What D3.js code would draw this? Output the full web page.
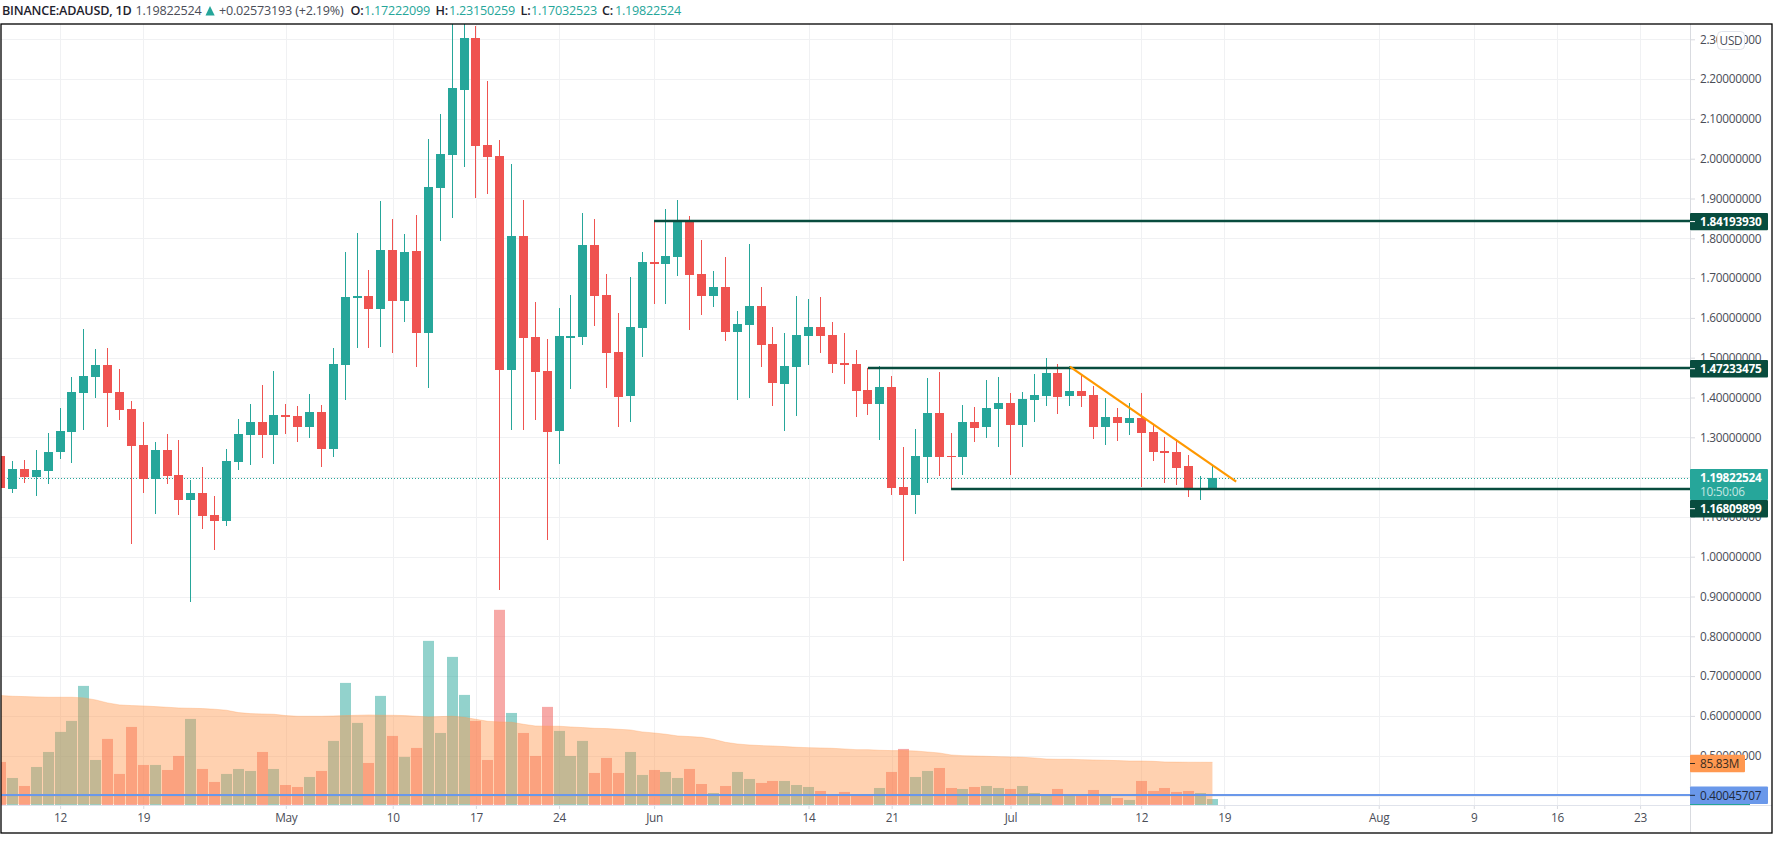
<!DOCTYPE html>
<html>
<head>
<meta charset="utf-8">
<title>BINANCE:ADAUSD, 1D</title>
<script src="https://cdnjs.cloudflare.com/ajax/libs/d3/7.8.5/d3.min.js"></script>
<style>
  html, body { margin: 0; background: #fff; overflow: hidden; }
  svg { display: block; }
  text { font-family: "Open Sans", sans-serif; }
  .axis path, .axis line { stroke: #d9dbe0; }
  .axis text { fill: #4a4d57; font-size: 11.8px; letter-spacing: -0.25px; }
</style>
</head>
<body>
<svg id="chart" width="1779" height="842"></svg>
<script>
// daily candles, first one is 2021-04-07, last one 2021-07-18
const opens = [
  1.2535, 1.171, 1.221, 1.201, 1.216,
  1.2635, 1.314, 1.4115, 1.452, 1.482, 1.414, 1.371, 1.281, 1.196, 1.2685,
  1.206, 1.143, 1.161, 1.1055, 1.0905, 1.2385, 1.306, 1.339, 1.306, 1.356,
  1.354, 1.326, 1.364, 1.271, 1.482, 1.65, 1.655, 1.622, 1.771, 1.642,
  1.768, 1.561, 1.927, 2.009, 2.173, 2.303, 2.034, 2.007, 1.469, 1.806,
  1.552, 1.467, 1.316, 1.549, 1.552, 1.783, 1.657, 1.514, 1.404, 1.5745,
  1.74, 1.735, 1.753, 1.843, 1.71, 1.655, 1.677, 1.5645, 1.582, 1.63,
  1.5345, 1.434, 1.477, 1.5545, 1.577, 1.557, 1.487, 1.484, 1.419, 1.384,
  1.4265, 1.176, 1.156, 1.251, 1.361, 1.2535, 1.251, 1.339, 1.326, 1.371,
  1.3865, 1.331, 1.394, 1.404, 1.462, 1.404, 1.4165, 1.4065, 1.326, 1.351,
  1.336, 1.349, 1.314, 1.266, 1.2635, 1.228, 1.1722, 1.17222099
];
const highs = [
  1.2535, 1.241, 1.2435, 1.2685, 1.311,
  1.374, 1.452, 1.572, 1.522, 1.5245, 1.472, 1.391, 1.339, 1.2885, 1.309,
  1.294, 1.193, 1.226, 1.153, 1.271, 1.346, 1.384, 1.4315, 1.467, 1.384,
  1.379, 1.409, 1.381, 1.5245, 1.766, 1.813, 1.72, 1.894, 1.849, 1.811,
  1.859, 2.05, 2.112, 2.36, 2.46, 2.334, 2.195, 2.047, 1.987, 1.896,
  1.64, 1.547, 1.625, 1.658, 1.864, 1.849, 1.71, 1.612, 1.7025, 1.765,
  1.843, 1.873, 1.896, 1.8555, 1.795, 1.7175, 1.753, 1.617, 1.785, 1.6775,
  1.577, 1.562, 1.655, 1.647, 1.652, 1.59, 1.562, 1.519, 1.474, 1.479,
  1.454, 1.276, 1.321, 1.449, 1.464, 1.311, 1.381, 1.376, 1.444, 1.452,
  1.4115, 1.414, 1.459, 1.499, 1.484, 1.479, 1.457, 1.429, 1.399, 1.374,
  1.386, 1.4115, 1.331, 1.301, 1.296, 1.256, 1.2032, 1.23150259
];
const lows = [
  1.173, 1.161, 1.186, 1.153, 1.183,
  1.246, 1.236, 1.319, 1.399, 1.326, 1.344, 1.033, 1.161, 1.108, 1.183,
  1.1055, 0.886, 1.07, 1.018, 1.078, 1.218, 1.231, 1.2485, 1.233, 1.309,
  1.2885, 1.299, 1.226, 1.251, 1.394, 1.5245, 1.5245, 1.527, 1.512, 1.59,
  1.476, 1.423, 1.793, 1.851, 1.978, 1.901, 1.911, 0.917, 1.319, 1.319,
  1.344, 1.043, 1.233, 1.4215, 1.532, 1.58, 1.424, 1.326, 1.339, 1.502,
  1.635, 1.635, 1.705, 1.5695, 1.607, 1.627, 1.542, 1.394, 1.399, 1.477,
  1.379, 1.316, 1.354, 1.482, 1.512, 1.462, 1.434, 1.351, 1.356, 1.294,
  1.156, 0.988, 1.108, 1.186, 1.203, 1.171, 1.206, 1.289, 1.299, 1.276,
  1.206, 1.276, 1.339, 1.379, 1.359, 1.379, 1.376, 1.296, 1.281, 1.291,
  1.306, 1.176, 1.241, 1.186, 1.181, 1.151, 1.143, 1.17032523
];
const closes = [
  1.173, 1.221, 1.201, 1.218, 1.2635,
  1.316, 1.414, 1.454, 1.482, 1.4115, 1.369, 1.2785, 1.196, 1.2685, 1.203,
  1.143, 1.161, 1.103, 1.0905, 1.241, 1.309, 1.339, 1.306, 1.356, 1.351,
  1.326, 1.364, 1.271, 1.484, 1.652, 1.655, 1.622, 1.771, 1.642, 1.766,
  1.561, 1.929, 2.012, 2.178, 2.303, 2.032, 2.004, 1.469, 1.806, 1.549,
  1.464, 1.314, 1.5545, 1.5545, 1.783, 1.655, 1.512, 1.4015, 1.577, 1.74,
  1.735, 1.755, 1.843, 1.7075, 1.655, 1.677, 1.5645, 1.5845, 1.63, 1.532,
  1.4365, 1.479, 1.557, 1.577, 1.5545, 1.484, 1.482, 1.4165, 1.384, 1.4265,
  1.173, 1.156, 1.2535, 1.361, 1.251, 1.251, 1.339, 1.324, 1.374, 1.3865,
  1.331, 1.3965, 1.4065, 1.462, 1.4015, 1.4165, 1.404, 1.326, 1.351, 1.336,
  1.349, 1.311, 1.2635, 1.261, 1.223, 1.173, 1.173, 1.19822524
];
// volume, millions
const volumes = [
  86.5, 54.3, 38.2, 76.4, 106.6,
  146.9, 169, 239.4, 90.5, 132.8, 62.4, 156.9, 80.5, 80.5, 70.4,
  98.6, 173, 72.4, 46.3, 62.4, 72.4, 68.4, 106.6, 72.4, 40.2,
  36.2, 56.3, 68.4, 128.8, 245.4, 165, 84.5, 219.3, 138.8, 96.6,
  114.7, 329.9, 144.8, 297.7, 221.3, 169, 90.5, 392.3, 185, 144.8,
  98.6, 197.2, 148.9, 98.6, 128.8, 64.4, 94.6, 64.4, 106.6, 60.4,
  70.4, 66.4, 54.3, 72.4, 42.2, 24.1, 38.2, 66.4, 52.3, 44.3,
  48.3, 48.3, 40.2, 36.2, 28.2, 20.1, 26.2, 20.1, 20, 34.2,
  66.4, 112.7, 56.3, 68.4, 74.4, 34.2, 32.2, 36.2, 38.2, 34.2,
  32.2, 38.2, 24.1, 20, 32.2, 20, 20, 30.2, 20, 14.1,
  10.1, 48.3, 28.2, 34.2, 26.2, 28.2, 24.1, 12
];
// volume moving average, millions
const volumeMA = [
  220, 218.6, 217.9, 217.3, 216.6,
  216.6, 216.6, 215.3, 211.2, 205.2, 201.2, 199.8, 199.2, 197.8, 196.5,
  195.1, 194.5, 193.8, 192.5, 190.5, 185.8, 183.7, 183.1, 182.4, 179.7,
  178.4, 178.4, 178.4, 179, 179.7, 180.4, 181.1, 180.4, 180.4, 179.7,
  178.4, 177, 177.7, 178.4, 176.4, 172.3, 168.3, 167, 166.3, 162.3,
  158.9, 158.3, 158.3, 156.9, 155.6, 154.2, 153.6, 152.2, 150.9, 146.9,
  144.8, 142.2, 138.8, 137.5, 136.1, 132.1, 126.1, 122.7, 120.7, 119.4,
  118.7, 117.4, 116, 115.3, 114.7, 114, 112.7, 111.3, 111.3, 110,
  109.3, 109.3, 108.6, 106.6, 104.6, 100.6, 99.2, 98.6, 97.9, 97.2,
  96.6, 95.9, 94.6, 92.5, 91.9, 91.9, 91.2, 90.5, 89.9, 89.2,
  88.5, 88.5, 87.8, 86.5, 86.2, 86, 85.9, 85.83
];

const priceTicks = [2.3, 2.2, 2.1, 2.0, 1.9, 1.8, 1.7, 1.6, 1.5, 1.4, 1.3, 1.2, 1.1, 1.0, 0.9, 0.8, 0.7, 0.6, 0.5, 0.4];
const timeTickDates = ['2021-04-12', '2021-04-19', '2021-05-01', '2021-05-10', '2021-05-17', '2021-05-24', '2021-06-01', '2021-06-14',
  '2021-06-21', '2021-07-01', '2021-07-12', '2021-07-19', '2021-08-01', '2021-08-09', '2021-08-16', '2021-08-23'];
const timeTickLabels = ['12', '19', 'May', '10', '17', '24', 'Jun', '14', '21', 'Jul', '12', '19', 'Aug', '9', '16', '23'];

const resistance1 = { price: 1.84193930, from: '2021-06-01' };
const resistance2 = { price: 1.47233475, from: '2021-06-19' };
const support = { price: 1.16809899, from: '2021-06-26' };
const lastPrice = 1.19822524;
const bluePrice = 0.40045707;
const trendDates = ['2021-07-06', '2021-07-20'];
const trendPrices = [1.4774, 1.1885];

const green = '#26a69a', red = '#ef5350', dark = '#084c3e', blue = '#6a98ea', orange = '#ff9850';

const parse = d3.utcParse('%Y-%m-%d');
const start = parse('2021-04-07');
const days = opens.map((_, i) => d3.utcDay.offset(start, i));
const candles = days.map((date, i) => ({
  date, open: opens[i], high: highs[i], low: lows[i], close: closes[i],
  vol: volumes[i], ma: volumeMA[i], up: closes[i] >= opens[i]
}));

// pane geometry
const left = 1, top_ = 24, right = 1772, bottom = 833, axisX = 1690, paneBottom = 805;

const x = d3.scaleUtc().domain([parse('2021-04-12'), parse('2021-08-23')]).range([60.1, 1640.1]);
const y = d3.scaleLinear().domain([2.3, 0.4]).range([39.3, 795.5]);
const yVol = d3.scaleLinear().domain([0, 85.83]).range([paneBottom, 762.3]);

const svg = d3.select('#chart');
svg.append('defs').append('clipPath').attr('id', 'pane')
  .append('rect').attr('x', left).attr('y', top_).attr('width', axisX - left).attr('height', paneBottom - top_);

// grid
const grid = svg.append('g').attr('stroke', '#f0f1f3').attr('stroke-width', 1);
grid.selectAll('.h').data(priceTicks).join('line').attr('class', 'h')
  .attr('x1', left).attr('x2', axisX)
  .attr('y1', d => Math.round(y(d)) + 0.5).attr('y2', d => Math.round(y(d)) + 0.5);
grid.selectAll('.v').data(timeTickDates).join('line').attr('class', 'v')
  .attr('x1', d => Math.round(x(parse(d))) + 0.5).attr('x2', d => Math.round(x(parse(d))) + 0.5)
  .attr('y1', top_).attr('y2', paneBottom);

// axes
svg.append('g').attr('class', 'axis').attr('transform', `translate(${axisX},0)`)
  .call(d3.axisRight(y).tickValues(priceTicks).tickSize(5).tickPadding(5).tickFormat(d3.format('.8f')))
  .call(g => g.select('.domain').remove());
svg.append('g').attr('class', 'axis').attr('transform', `translate(0,${paneBottom})`)
  .call(d3.axisBottom(x).tickValues(timeTickDates.map(parse)).tickSize(4).tickPadding(5)
    .tickFormat((d, i) => timeTickLabels[i]))
  .call(g => g.select('.domain').remove());
svg.append('line').attr('x1', left).attr('x2', right).attr('y1', paneBottom + 0.5).attr('y2', paneBottom + 0.5).attr('stroke', '#e0e3eb');
svg.append('line').attr('x1', axisX + 0.5).attr('x2', axisX + 0.5).attr('y1', top_).attr('y2', bottom).attr('stroke', '#d9dbe0');

const pane = svg.append('g').attr('clip-path', 'url(#pane)');

// volume + MA
pane.selectAll('.vol').data(candles).join('rect').attr('class', 'vol')
  .attr('x', d => Math.round(x(d.date) - 5.5)).attr('width', 11)
  .attr('y', d => yVol(d.vol)).attr('height', d => paneBottom - yVol(d.vol))
  .attr('fill', d => d.up ? green : red).attr('fill-opacity', 0.5);
pane.append('path').datum(candles)
  .attr('d', d3.area().x(d => x(d.date)).y0(yVol(1.3)).y1(d => yVol(d.ma)))
  .attr('fill', orange).attr('fill-opacity', 0.45);
pane.append('path').datum(candles)
  .attr('d', d3.line().x(d => x(d.date)).y(d => yVol(d.ma)))
  .attr('fill', 'none').attr('stroke', orange).attr('stroke-opacity', 0.3).attr('stroke-width', 1);

// last price dotted line
pane.append('line').attr('x1', left).attr('x2', axisX).attr('y1', Math.round(y(lastPrice)) + 0.5).attr('y2', Math.round(y(lastPrice)) + 0.5)
  .attr('stroke', green).attr('stroke-width', 1).attr('stroke-dasharray', '1 2');

// candles
pane.selectAll('.wick').data(candles).join('rect').attr('class', 'wick')
  .attr('x', d => Math.round(x(d.date) - 4.5) + 4).attr('width', 1)
  .attr('y', d => Math.round(y(d.high))).attr('height', d => Math.round(y(d.low)) - Math.round(y(d.high)))
  .attr('fill', d => d.up ? green : red);
pane.selectAll('.body').data(candles).join('rect').attr('class', 'body')
  .attr('x', d => Math.round(x(d.date) - 4.5)).attr('width', 9)
  .attr('y', d => Math.round(y(Math.max(d.open, d.close))))
  .attr('height', d => Math.max(1, Math.round(y(Math.min(d.open, d.close))) - Math.round(y(Math.max(d.open, d.close)))))
  .attr('fill', d => d.up ? green : red);

// drawings, snapped down to whole pixels so they sit where the reference has them
[resistance1, resistance2, support].forEach(l => {
  pane.append('line').attr('x1', x(parse(l.from))).attr('x2', axisX).attr('y1', Math.floor(y(l.price))).attr('y2', Math.floor(y(l.price)))
    .attr('stroke', dark).attr('stroke-width', 2.3);
});
pane.append('line').attr('x1', left).attr('x2', axisX).attr('y1', Math.floor(y(bluePrice))).attr('y2', Math.floor(y(bluePrice)))
  .attr('stroke', blue).attr('stroke-width', 2);
pane.append('line')
  .attr('x1', x(parse(trendDates[0]))).attr('y1', y(trendPrices[0]))
  .attr('x2', x(parse(trendDates[1]))).attr('y2', y(trendPrices[1]))
  .attr('stroke', '#ff9800').attr('stroke-width', 2.2);

// axis labels
function priceLabel(cy, w, fill, text, color, bold) {
  svg.append('rect').attr('x', axisX).attr('y', cy - 8.7).attr('width', w).attr('height', 17.4).attr('rx', 1).attr('fill', fill);
  svg.append('line').attr('x1', axisX).attr('x2', axisX + 5).attr('y1', cy).attr('y2', cy).attr('stroke', color);
  svg.append('text').attr('x', axisX + 10).attr('y', cy).attr('dy', '0.36em').attr('fill', color)
    .attr('font-size', 11.8).attr('letter-spacing', -0.25).attr('font-weight', bold ? 700 : 400).text(text);
}
priceLabel(y(resistance1.price), 78, dark, resistance1.price.toFixed(8), '#fff', true);
priceLabel(y(resistance2.price), 78, dark, resistance2.price.toFixed(8), '#fff', true);
// current price box with countdown
svg.append('rect').attr('x', axisX).attr('y', 469).attr('width', 78).attr('height', 31).attr('rx', 1).attr('fill', green);
svg.append('text').attr('x', axisX + 10).attr('y', y(lastPrice)).attr('dy', '0.36em').attr('fill', '#fff')
  .attr('font-size', 11.8).attr('letter-spacing', -0.25).attr('font-weight', 700).text(lastPrice.toFixed(8));
svg.append('text').attr('x', axisX + 10).attr('y', 491.7).attr('dy', '0.36em').attr('fill', '#c4e6e2')
  .attr('font-size', 11.8).attr('letter-spacing', -0.25).text('10:50:06');
priceLabel(508.7, 78, dark, support.price.toFixed(8), '#fff', true);
priceLabel(yVol(85.83) + 1.2, 55, orange, '85.83M', '#3a2c20', false);
svg.append('rect').attr('x', axisX).attr('y', 803.5).attr('width', 60).attr('height', 1.5).attr('fill', green);
priceLabel(y(bluePrice), 78, blue, bluePrice.toFixed(8), '#1f2a3d', false);

// USD badge
svg.append('rect').attr('x', 1717.5).attr('y', 31.5).attr('width', 27).attr('height', 18).attr('rx', 4)
  .attr('fill', '#fff').attr('stroke', '#e0e3eb');
svg.append('text').attr('x', 1731).attr('y', 40.5).attr('dy', '0.36em').attr('text-anchor', 'middle')
  .attr('font-size', 11.8).attr('letter-spacing', -0.25).attr('fill', '#4a4d57').text('USD');

// frame
svg.append('rect').attr('x', left).attr('y', top_).attr('width', right - left).attr('height', bottom - top_)
  .attr('fill', 'none').attr('stroke', '#000').attr('stroke-width', 1.3);

// header legend
const header = svg.append('g').attr('font-size', 12.6).attr('letter-spacing', -0.2);
const headerItems = [
  [2, 'BINANCE:ADAUSD, 1D', '#1e222d', 600],
  [135.5, '1.19822524', '#4a4d57', 400],
  [219, '+0.02573193 (+2.19%)', '#4a4d57', 400],
  [350.5, 'O:', '#1e222d', 600],
  [364, '1.17222099', green, 400],
  [435.5, 'H:', '#1e222d', 600],
  [449, '1.23150259', green, 400],
  [520.5, 'L:', '#1e222d', 600],
  [531, '1.17032523', green, 400],
  [602, 'C:', '#1e222d', 600],
  [615, '1.19822524', green, 400]
];
header.selectAll('text').data(headerItems).join('text')
  .attr('x', d => d[0]).attr('y', 10.7).attr('dy', '0.36em')
  .attr('fill', d => d[2]).attr('font-weight', d => d[3]).text(d => d[1]);
header.append('path').attr('d', 'M205.5 15.5 L210 6 L214.7 15.5 Z').attr('fill', green);
</script>
</body>
</html>
